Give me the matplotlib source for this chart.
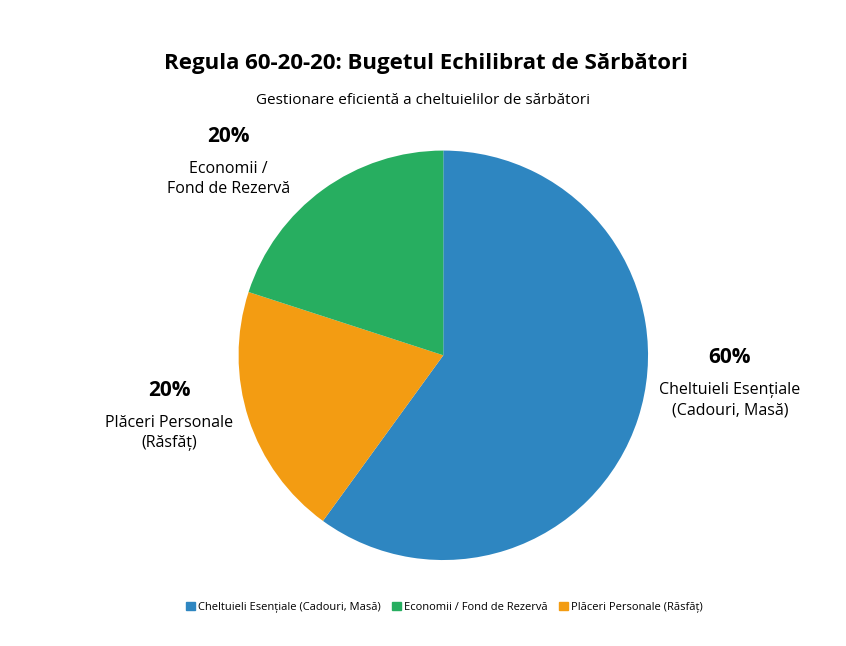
import matplotlib.pyplot as plt
from matplotlib.patches import Patch

plt.rcParams['font.family'] = ['Open Sans', 'DejaVu Sans']

# data
categories = ['Cheltuieli Esențiale (Cadouri, Masă)', 'Plăceri Personale (Răsfăț)', 'Economii / Fond de Rezervă']
values = [60, 20, 20]
colors = ['#2e86c1', '#f39c12', '#27ae60']
label_names = ['Cheltuieli Esențiale\n(Cadouri, Masă)', 'Plăceri Personale\n(Răsfăț)', 'Economii /\nFond de Rezervă']
label_pos = [(1.40, -0.01), (-1.34, -0.17), (-1.05, 1.07)]

fig = plt.figure(figsize=(8.46, 6.46), dpi=100)
ax = fig.add_axes([0.524 - 0.242, 0.45 - 0.317, 0.484, 0.634])
ax.pie(values, colors=colors, startangle=90, counterclock=False, radius=1.0)
ax.set_xlim(-1, 1)
ax.set_ylim(-1, 1)
ax.set_aspect('equal')

for v, name, (x, y) in zip(values, label_names, label_pos):
    ax.text(x, y, f'{v}%', ha='center', va='center', fontsize=15, fontweight='bold', clip_on=False)
    ax.text(x, y - 0.12, name, ha='center', va='top', fontsize=11.5, linespacing=1.35, clip_on=False)

fig.text(0.503, 0.902, 'Regula 60-20-20: Bugetul Echilibrat de Sărbători', ha='center', va='center',
         fontsize=16, fontweight='bold')
fig.text(0.5, 0.845, 'Gestionare eficientă a cheltuielilor de sărbători', ha='center', va='center', fontsize=11)

handles = [Patch(color=c, label=l) for c, l in zip([colors[0], colors[2], colors[1]],
                                                    [categories[0], categories[2], categories[1]])]
fig.legend(handles=handles, loc='center', bbox_to_anchor=(0.525, 0.06), ncol=3, frameon=False,
           fontsize=8, handlelength=0.8, handleheight=0.8, handletextpad=0.3, columnspacing=1.0)

fig.savefig('out.png', dpi=100)
